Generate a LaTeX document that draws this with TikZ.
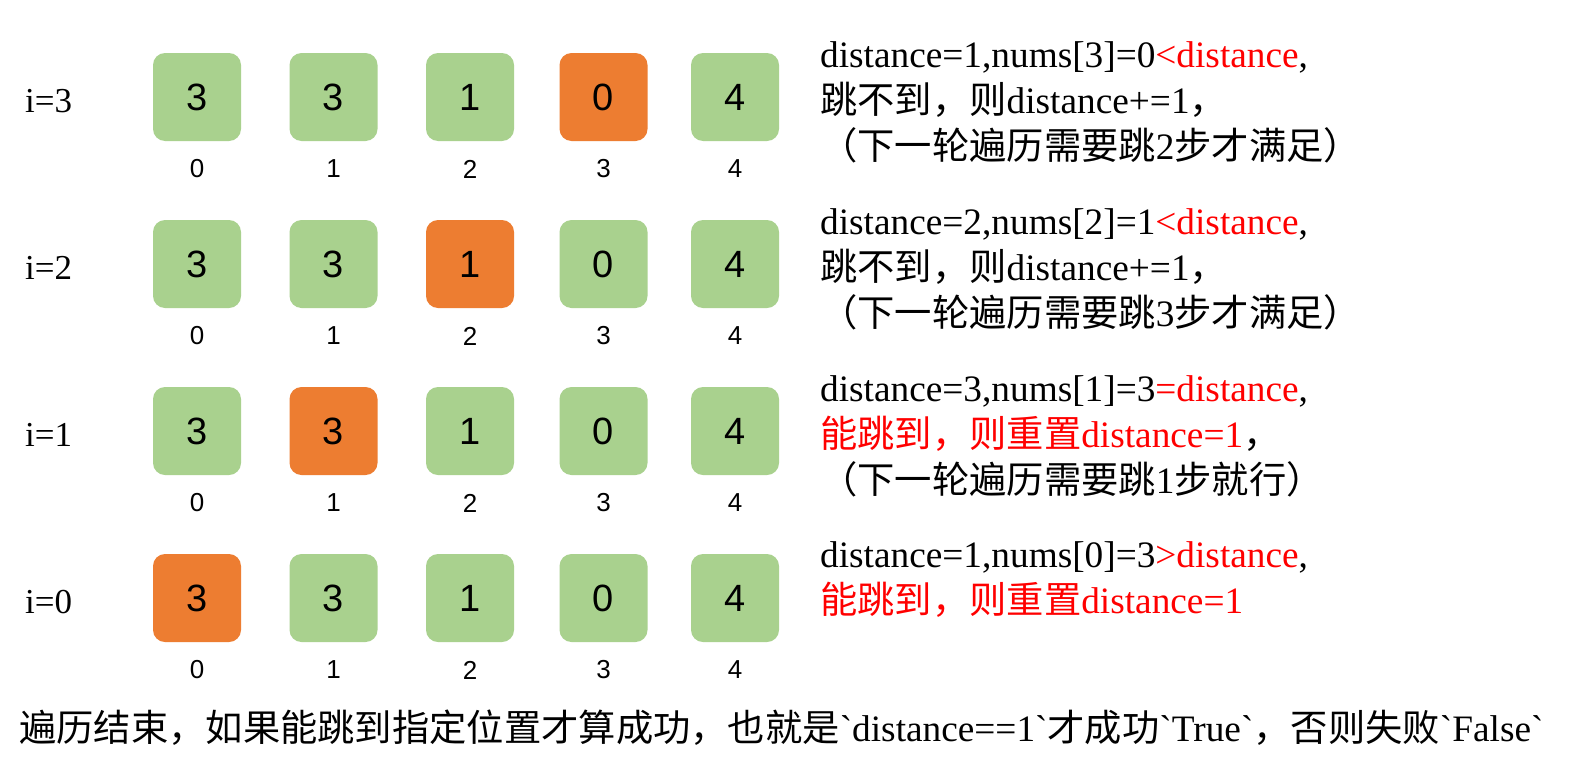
\documentclass[tikz,border=0pt]{standalone}
\usepackage{fontspec}
\setmainfont{Liberation Serif}
\newfontfamily\cjk{Noto Sans CJK SC}
\newfontfamily\numfont{Liberation Sans}
\newfontfamily\gravefont{Liberation Serif}[Ligatures=TeXOff]
\newcommand\bq{{\gravefont`}}
\definecolor{cellgreen}{HTML}{A9D18E}
\definecolor{cellhot}{HTML}{ED7D31}
\definecolor{hl}{HTML}{FF0000}
\tikzset{
  cell/.style={rounded corners=12pt, minimum width=88pt, minimum height=88pt, inner sep=0pt,
    font=\numfont\fontsize{38}{38}\selectfont},
  idxlab/.style={inner sep=0pt, font=\numfont\fontsize{26}{26}\selectfont},
  ilab/.style={inner sep=0pt, anchor=base west, font=\fontsize{35}{35}\selectfont},
  desc/.style={inner sep=0pt, anchor=base west, font=\fontsize{37.3}{37.3}\selectfont},
  foot/.style={inner sep=0pt, anchor=base west, font=\fontsize{37.3}{37.3}\selectfont}
}
\begin{document}
\begin{tikzpicture}[x=1pt,y=-1pt]
\useasboundingbox (0,0) rectangle (1586,771);
\fill[white] (0,0) rectangle (1586,771);
\foreach \r in {0,1,2,3} {
  \pgfmathtruncatemacro\hi{3-\r}
  \foreach \v/\x [count=\c from 0] in {3/197,3/333.5,1/470,0/603.5,4/735} {
    \ifnum\c=\hi\relax\def\fc{cellhot}\else\def\fc{cellgreen}\fi
    \node[cell, fill=\fc] (c\r\c) at (\x,{97+167*\r}) {\v};
    \node[idxlab] (l\r\c) at (\x,{169+167*\r}) {\c};
  }
  \node[ilab] (i\r) at (25,{112+167*\r}) {i=\hi};
}
% row 1
\node[desc] (t01) at (820,67) {distance=1,nums[3]=0\textcolor{hl}{<distance},};
\node[desc] (t02) at (820,113) {{\cjk 跳不到，则}distance+=1{\cjk ，}};
\node[desc] (t03) at (820,159) {{\cjk （下一轮遍历需要跳}2{\cjk 步才满足）}};
% row 2
\node[desc] (t11) at (820,234) {distance=2,nums[2]=1\textcolor{hl}{<distance},};
\node[desc] (t12) at (820,280) {{\cjk 跳不到，则}distance+=1{\cjk ，}};
\node[desc] (t13) at (820,326) {{\cjk （下一轮遍历需要跳}3{\cjk 步才满足）}};
% row 3
\node[desc] (t21) at (820,401) {distance=3,nums[1]=3\textcolor{hl}{=distance},};
\node[desc] (t22) at (820,447) {\textcolor{hl}{{\cjk 能跳到，则重置}distance=1}{\cjk ，}};
\node[desc] (t23) at (820,493) {{\cjk （下一轮遍历需要跳}1{\cjk 步就行）}};
% row 4
\node[desc] (t31) at (820,567) {distance=1,nums[0]=3\textcolor{hl}{>distance},};
\node[desc] (t32) at (820,613) {\textcolor{hl}{{\cjk 能跳到，则重置}distance=1}};
% footer
\node[foot] (foot) at (19,741) {{\cjk 遍历结束，如果能跳到指定位置才算成功，也就是}\bq distance==1\bq{\cjk 才成功}\bq True\bq{\cjk ，否则失败}\bq False\bq};
\end{tikzpicture}
\end{document}
